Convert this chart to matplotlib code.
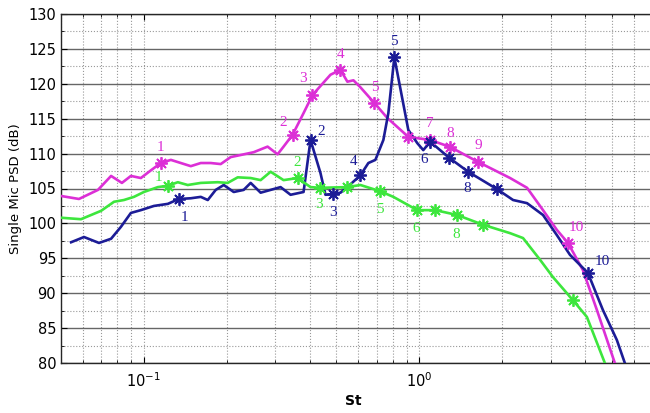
import matplotlib
matplotlib.use("Agg")
import matplotlib.pyplot as plt
from matplotlib.ticker import MultipleLocator, LogLocator, NullFormatter

# St vs PSD
st_mag = [0.0505, 0.0581, 0.0681, 0.0760, 0.0832, 0.0897, 0.0975, 0.106, 0.1152, 0.1253,
          0.1362, 0.148, 0.1609, 0.1749, 0.1901, 0.2066, 0.2246, 0.2504, 0.2813, 0.3058,
          0.3215, 0.3467, 0.38, 0.4095, 0.476, 0.5173, 0.5483, 0.5766, 0.6113, 0.687,
          0.7657, 0.9123, 1.096, 1.295, 1.636, 2.137, 2.462, 2.814, 3.162, 3.467,
          3.929, 4.415, 5.13]
db_mag = [103.9, 103.5, 104.8, 106.8, 105.8, 106.8, 106.5, 107.6, 108.65, 109.1,
          108.65, 108.2, 108.65, 108.65, 108.5, 109.5, 109.8, 110.2, 111.0, 109.9,
          111.0, 112.7, 115.8, 118.4, 121.3, 122.0, 120.3, 120.5, 119.5, 117.25,
          115.1, 112.4, 111.95, 110.95, 108.8, 106.5, 105.1, 101.9, 99.05, 97.2,
          93.3, 87.6, 80.0]
mk_mag = [8, 21, 23, 25, 29, 31, 32, 33, 34, 39]

st_blu = [0.0544, 0.0606, 0.0687, 0.076, 0.0825, 0.0897, 0.0975, 0.1087, 0.1222, 0.1339,
          0.148, 0.1609, 0.1706, 0.1823, 0.195, 0.2119, 0.2303, 0.2442, 0.2654, 0.2885,
          0.3136, 0.3409, 0.38, 0.4028, 0.4378, 0.4564, 0.4841, 0.5173, 0.5483, 0.6113,
          0.6533, 0.6928, 0.7406, 0.7721, 0.8119, 0.9123, 0.9834, 1.034, 1.096, 1.284,
          1.505, 1.917, 2.191, 2.462, 2.814, 3.162, 3.525, 4.096, 4.642, 5.217, 5.577]
db_blu = [97.3, 98.05, 97.2, 97.8, 99.5, 101.5, 101.9, 102.5, 102.8, 103.5,
          103.6, 103.8, 103.35, 104.8, 105.5, 104.5, 104.8, 105.8, 104.4, 104.8,
          105.2, 104.1, 104.5, 111.95, 107.2, 104.1, 104.2, 104.4, 105.2, 106.9,
          108.65, 109.1, 111.95, 115.8, 123.8, 113.4, 111.5, 110.5, 111.7, 109.4,
          107.4, 104.9, 103.35, 102.9, 101.2, 98.3, 95.5, 92.9, 87.6, 83.3, 80.0]
mk_blu = [9, 23, 26, 29, 34, 38, 39, 40, 41, 47]

st_grn = [0.0505, 0.0591, 0.0699, 0.0779, 0.0846, 0.092, 0.1, 0.1124, 0.1222, 0.1328,
          0.1443, 0.1609, 0.1854, 0.2015, 0.2191, 0.2442, 0.2654, 0.2885, 0.3215, 0.3614,
          0.4028, 0.4378, 0.5483, 0.6113, 0.7223, 0.8052, 0.9834, 1.143, 1.373, 1.706,
          2.137, 2.381, 2.744, 3.059, 3.614, 4.061, 4.719]
db_grn = [100.8, 100.6, 101.8, 103.1, 103.35, 103.8, 104.5, 105.2, 105.4, 105.9,
          105.5, 105.8, 105.9, 105.8, 106.6, 106.5, 106.2, 107.4, 106.2, 106.5,
          105.2, 105.1, 105.2, 105.5, 104.6, 103.8, 101.9, 101.9, 101.2, 99.8,
          98.6, 97.9, 94.8, 92.3, 89.0, 86.6, 80.0]
mk_grn = [8, 19, 21, 22, 24, 26, 27, 28, 29, 34]

# number labels: (marker number, dx, dy in points)
lab_mag = [(1, 0, 11), (2, -7, 9), (3, -7, 12), (4, 0, 11), (5, 0, 11),
           (7, 0, 12), (8, 0, 10), (9, 0, 12), (10, 6, 11)]
lab_blu = [(1, 4, -13), (2, 8, 6), (3, 0, -13), (4, -5, 10), (5, 0, 11),
           (6, -4, -13), (8, -1, -12), (10, 10, 8)]
lab_grn = [(1, -7, 6), (2, 0, 11), (3, -1, -12), (5, 0, -13), (6, -1, -13), (8, -1, -14)]

c_mag = '#dc2fd6'
c_blu = '#1c1c96'
c_grn = '#3de63d'

fig = plt.figure(figsize=(6.5, 4.13), dpi=100)
ax = fig.add_axes([61/650, 50/413, 591/650, 349/413])

series = [(st_mag, db_mag, mk_mag, lab_mag, c_mag),
          (st_blu, db_blu, mk_blu, lab_blu, c_blu),
          (st_grn, db_grn, mk_grn, lab_grn, c_grn)]
for st, db, mk, labs, c in series:
    ax.plot(st, db, color=c, lw=1.9, zorder=3)
    ax.plot([st[i] for i in mk], [db[i] for i in mk], ls='none', marker=(8, 2, 0),
            ms=9, mew=1.3, color=c, zorder=4)
    for n, dx, dy in labs:
        i = mk[n - 1]
        ax.annotate(str(n), (st[i], db[i]), xytext=(dx, dy), textcoords='offset points',
                    ha='center', va='center', color=c, fontsize=11,
                    family='Liberation Serif', zorder=5)

ax.set_xscale('log')
ax.set_xlim(0.05, 7)
ax.set_ylim(80, 130)
ax.yaxis.set_major_locator(MultipleLocator(5))
ax.yaxis.set_minor_locator(MultipleLocator(2.5))
ax.xaxis.set_minor_locator(LogLocator(base=10, subs=range(2, 10)))
ax.xaxis.set_minor_formatter(NullFormatter())

ax.grid(True, which='major', axis='y', color='0.4', lw=1.0, ls='-')
ax.grid(True, which='minor', axis='y', color='0.6', lw=0.8, ls=':')
ax.grid(True, which='both', axis='x', color='0.6', lw=0.8, ls=':')
ax.set_axisbelow(True)

ax.tick_params(which='both', direction='in', top=True, right=False, labelsize=10.5)
ax.tick_params(which='major', length=4)
ax.tick_params(which='minor', length=2.5)
ax.tick_params(axis='x', pad=6)
for s in ['left', 'bottom', 'top']:
    ax.spines[s].set_color('0.15')
    ax.spines[s].set_linewidth(1.0)

ax.set_xlabel('St', fontsize=10, fontweight='bold')
ax.xaxis.set_label_coords(0.495, -0.088)
ax.set_ylabel('Single Mic PSD (dB)', fontsize=9.5)
ax.yaxis.set_label_coords(-0.066, 0.5)

fig.savefig('out.png', dpi=100)
